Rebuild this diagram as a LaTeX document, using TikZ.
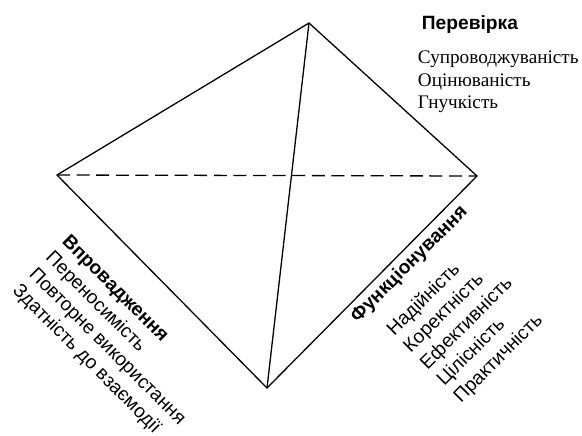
\documentclass[tikz,border=0pt]{standalone}
\usepackage{fontspec}
\setmainfont{Liberation Serif}
\setsansfont{Liberation Sans}
\begin{document}
\begin{tikzpicture}[x=.5pt,y=-.5pt]
\tikzset{side/.style={line width=.65pt},hidden/.style={side,dash pattern=on 6.5pt off 3.3pt},
grouphead/.style={inner sep=0pt,anchor=base west,font=\sffamily\bfseries\fontsize{9.6}{11.5}\selectfont},
groupitem/.style={inner sep=0pt,anchor=base west,font=\sffamily\fontsize{9.6}{11.5}\selectfont},
checkitem/.style={inner sep=0pt,anchor=base west,font=\rmfamily\fontsize{9.6}{11.5}\selectfont}}
\useasboundingbox (0,0) rectangle (582,435);
% vertices of the pyramid
\coordinate (apex) at (309,23);
\coordinate (west) at (57,175);
\coordinate (east) at (477,176);
\coordinate (south) at (267,388);
\draw[side] (west)--(apex)--(east)--(south)--cycle;
\draw[side] (apex)--(south);
\draw[hidden] (west)--(east);
% top group
\node[grouphead] (check) at (421.5,29.3) {Перевірка};
\node[checkitem] (maint) at (417.5,63.3) {Супроводжуваність};
\node[checkitem] (eval) at (417.5,86) {Оцінюваність};
\node[checkitem] (flex) at (417.5,108.5) {Гнучкість};
% left group
\node[grouphead,rotate=-45] (impl) at (61,242) {Впровадження};
\node[groupitem,rotate=-45] (port) at (44.5,258.5) {Переносимість};
\node[groupitem,rotate=-45] (reuse) at (28,275) {Повторне використання};
\node[groupitem,rotate=-45] (interop) at (11.5,291.5) {Здатність до взаємодії};
% right group
\node[grouphead,rotate=45] (oper) at (357.5,323.5) {Функціонування};
\node[groupitem,rotate=45] (rel) at (394,337) {Надійність};
\node[groupitem,rotate=45] (corr) at (410.7,353.7) {Коректність};
\node[groupitem,rotate=45] (effic) at (427.4,370.4) {Ефективність};
\node[groupitem,rotate=45] (integ) at (444.1,387.1) {Цілісність};
\node[groupitem,rotate=45] (usab) at (460.8,403.8) {Практичність};
\end{tikzpicture}
\end{document}
